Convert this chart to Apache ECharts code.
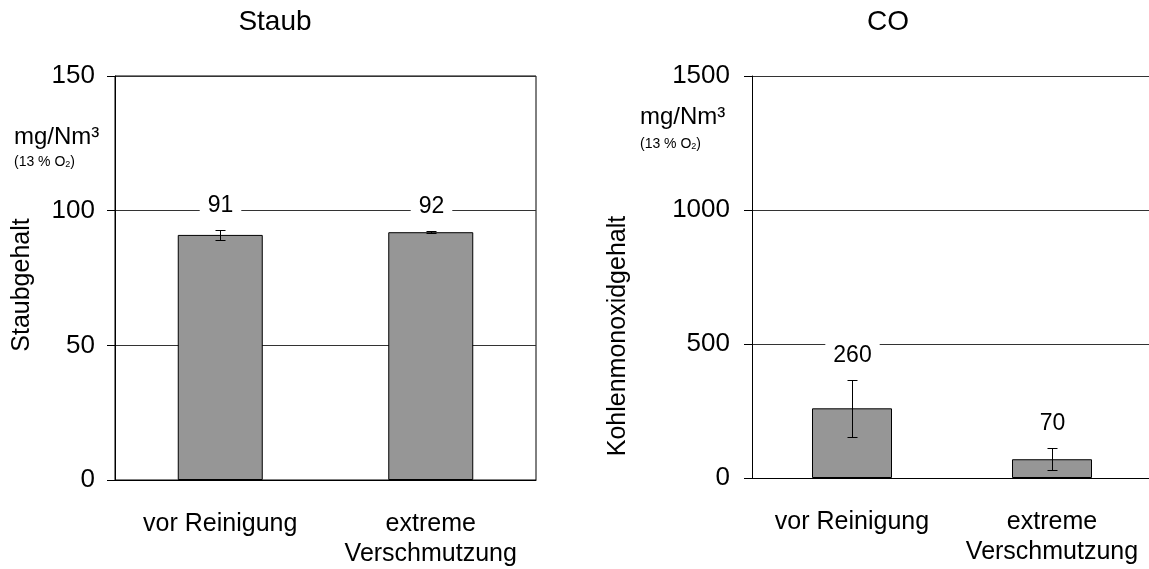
<!DOCTYPE html>
<html>
<head>
<meta charset="utf-8">
<script src="https://cdn.jsdelivr.net/npm/echarts@6/dist/echarts.min.js"></script>
<style>
html,body{margin:0;padding:0;background:#fff;}
#chart{width:1149px;height:569px;}
</style>
</head>
<body>
<div id="chart"></div>
<script>
// ---- data ----
const categories = ['vor Reinigung', 'extreme\nVerschmutzung'];
const chartTitles = ['Staub', 'CO'];
const yAxisNames = ['Staubgehalt', 'Kohlenmonoxidgehalt'];
const unitMain = 'mg/Nm³';
const staubValues = [91, 92];
const staubErrors = [2, 0.4];
const coValues = [260, 70];
const coErrors = [106, 42];
const staubAxis = { min: 0, max: 150, interval: 50 };
const coAxis = { min: 0, max: 1500, interval: 500 };

const FONT = '"Liberation Sans", Arial, sans-serif';

function errData(vals, errs) {
  return vals.map((v, i) => [i, v, errs[i]]);
}

function renderErr(params, api) {
  const x = api.value(0), v = api.value(1), e = api.value(2);
  const top = api.coord([x, v + e]);
  const bot = api.coord([x, v - e]);
  const cx = Math.round(top[0]) + 0.5;
  const ty = Math.round(top[1]) + 0.5, by = Math.round(bot[1]) + 0.5;
  const cap = 5;
  const ls = { stroke: '#000', lineWidth: 1 };
  return {
    type: 'group',
    children: [
      { type: 'line', shape: { x1: cx, y1: ty, x2: cx, y2: by }, style: ls },
      { type: 'line', shape: { x1: cx - cap, y1: ty, x2: cx + cap, y2: ty }, style: ls },
      { type: 'line', shape: { x1: cx - cap, y1: by, x2: cx + cap, y2: by }, style: ls },
      {
        type: 'text', x: cx, y: ty - 25,
        style: {
          text: String(v), fill: '#000', font: '23px ' + FONT,
          align: 'center', verticalAlign: 'middle',
          backgroundColor: '#fff', padding: [7, 8]
        }
      }
    ]
  };
}

function xAxisCfg(gi) {
  return {
    type: 'category', gridIndex: gi, data: categories,
    axisLine: { lineStyle: { color: '#000', width: 1 } },
    axisTick: { show: false },
    axisLabel: { interval: 0, color: '#000', fontFamily: FONT, fontSize: 25, lineHeight: 30, margin: 29 }
  };
}
function yAxisCfg(gi, ax, margin) {
  return {
    type: 'value', gridIndex: gi, min: ax.min, max: ax.max, interval: ax.interval,
    axisLine: { show: true, lineStyle: { color: '#000', width: 1 } },
    axisTick: { show: true, length: 8, lineStyle: { color: '#000' } },
    axisLabel: { color: '#000', fontFamily: FONT, fontSize: 26, margin: margin, formatter: (v) => String(v) },
    splitLine: { show: true, lineStyle: { color: '#333', width: 1 } }
  };
}

const chart = echarts.init(document.getElementById('chart'), null, { renderer: 'canvas' });
chart.setOption({
  animation: false,
  backgroundColor: '#fff',
  grid: [
    { left: 115, top: 76, width: 421, height: 404, outerBoundsMode: 'none', containLabel: false, show: true, borderColor: '#000', borderWidth: 1, backgroundColor: 'transparent' },
    { left: 752, top: 76, width: 400, height: 402, outerBoundsMode: 'none', containLabel: false, show: false }
  ],
  xAxis: [xAxisCfg(0), xAxisCfg(1)],
  yAxis: [yAxisCfg(0, staubAxis, 20), yAxisCfg(1, coAxis, 22)],
  series: [
    { type: 'bar', xAxisIndex: 0, yAxisIndex: 0, data: staubValues, barWidth: 85,
      itemStyle: { color: '#969696', borderColor: '#000', borderWidth: 1 } },
    { type: 'bar', xAxisIndex: 1, yAxisIndex: 1, data: coValues, barWidth: 80,
      itemStyle: { color: '#969696', borderColor: '#000', borderWidth: 1 } },
    { type: 'custom', xAxisIndex: 0, yAxisIndex: 0, z: 5, data: errData(staubValues, staubErrors), renderItem: renderErr },
    { type: 'custom', xAxisIndex: 1, yAxisIndex: 1, z: 5, data: errData(coValues, coErrors), renderItem: renderErr }
  ],
  graphic: [
    { type: 'text', x: 275, y: 22, style: { text: chartTitles[0], fill: '#000', font: '28px ' + FONT, align: 'center', verticalAlign: 'middle' } },
    { type: 'text', x: 888, y: 22, style: { text: chartTitles[1], fill: '#000', font: '28px ' + FONT, align: 'center', verticalAlign: 'middle' } },
    { type: 'text', x: 22, y: 285, rotation: Math.PI / 2, style: { text: yAxisNames[0], fill: '#000', font: '25px ' + FONT, align: 'center', verticalAlign: 'middle' } },
    { type: 'text', x: 618, y: 336, rotation: Math.PI / 2, style: { text: yAxisNames[1], fill: '#000', font: '25px ' + FONT, align: 'center', verticalAlign: 'middle' } },
    { type: 'text', x: 14, y: 137, style: { text: unitMain, fill: '#000', font: '24px ' + FONT, align: 'left', verticalAlign: 'middle' } },
    { type: 'text', x: 640, y: 117, style: { text: unitMain, fill: '#000', font: '24px ' + FONT, align: 'left', verticalAlign: 'middle' } },
    { type: 'text', x: 14, y: 162, style: { text: '(13 % O{s|2})', rich: { s: { fontSize: 9, fontFamily: FONT, fill: '#000', verticalAlign: 'bottom', padding: [6, 0, 0, 0] } }, fill: '#000', font: '14px ' + FONT, align: 'left', verticalAlign: 'middle' } },
    { type: 'text', x: 640, y: 144, style: { text: '(13 % O{s|2})', rich: { s: { fontSize: 9, fontFamily: FONT, fill: '#000', verticalAlign: 'bottom', padding: [6, 0, 0, 0] } }, fill: '#000', font: '14px ' + FONT, align: 'left', verticalAlign: 'middle' } }
  ]
});
</script>
</body>
</html>
